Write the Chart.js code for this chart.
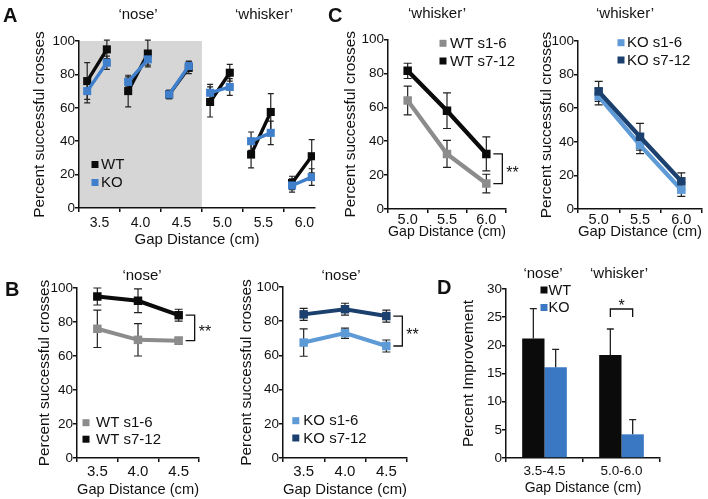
<!DOCTYPE html>
<html>
<head>
<meta charset="utf-8">
<script src="https://cdn.jsdelivr.net/npm/chart.js@4.4.0/dist/chart.umd.min.js"></script>
<style>
  body { margin: 0; background: #fff; }
  #fig { position: relative; width: 708px; height: 499px; overflow: hidden;
         font-family: "Liberation Sans", Arial, Helvetica, sans-serif; color: #111; }
  #fig canvas { position: absolute; left: 0; top: 0; }
  .letter { position: absolute; font-weight: bold; font-size: 20px; line-height: 20px; }
  .cond { position: absolute; font-size: 15px; line-height: 15px; white-space: nowrap;
          transform: translate(-50%, -50%); }
</style>
</head>
<body>
<div id="fig">
  <canvas id="chartA" width="708" height="499"></canvas>
  <canvas id="chartBl" width="708" height="499"></canvas>
  <canvas id="chartBr" width="708" height="499"></canvas>
  <canvas id="chartCl" width="708" height="499"></canvas>
  <canvas id="chartCr" width="708" height="499"></canvas>
  <canvas id="chartD" width="708" height="499"></canvas>

  <div class="letter" style="left:3px;top:5px">A</div>
  <div class="letter" style="left:5px;top:279px">B</div>
  <div class="letter" style="left:328px;top:5px">C</div>
  <div class="letter" style="left:437px;top:277px">D</div>

  <div class="cond" style="left:138px;top:13px">‘nose’</div>
  <div class="cond" style="left:264px;top:13px">‘whisker’</div>
  <div class="cond" style="left:437px;top:12px">‘whisker’</div>
  <div class="cond" style="left:625px;top:12px">‘whisker’</div>
  <div class="cond" style="left:142px;top:274px">‘nose’</div>
  <div class="cond" style="left:341px;top:274px">‘nose’</div>
  <div class="cond" style="left:543px;top:272px">‘nose’</div>
  <div class="cond" style="left:619px;top:272px">‘whisker’</div>
</div>
<script>
// ---- data ----
// A: every gap, first half (s1-6) and second half (s7-12) of sessions
const gapsA = [3.5, 4.0, 4.5, 5.0, 5.5, 6.0];
const wtEarlyA = [76, 70, 68, 63.5, 32, 15];
const wtEarlyErrA = [11, 9.5, 2.5, 9, 8, 4];
const wtLateA = [95, 92.5, 84, 81, 57.5, 31];
const wtLateErrA = [5.5, 8, 3.5, 5, 11, 10];
const koEarlyA = [70, 75.5, 68, 69, 40, 13.5];
const koEarlyErrA = [7, 3, 2.5, 5, 5.5, 4];
const koLateA = [87, 89, 85, 72.5, 45, 18.5];
const koLateErrA = [4, 3.5, 3, 5, 7, 5];

// B: 'nose' gaps
const gapsB = ['3.5', '4.0', '4.5'];
const wtEarlyB = [76, 69.5, 69];
const wtEarlyErrB = [11, 9.5, 2];
const wtLateB = [95, 92.5, 84];
const wtLateErrB = [5, 7, 3.5];
const koEarlyB = [67.5, 73, 65.5];
const koEarlyErrB = [8, 3, 3.5];
const koLateB = [84, 87, 83];
const koLateErrB = [3.5, 3.5, 3.5];

// C: 'whisker' gaps
const gapsC = ['5.0', '5.5', '6.0'];
const wtEarlyC = [64, 32.5, 15];
const wtEarlyErrC = [8.5, 8, 5.5];
const wtLateC = [81.5, 58, 32.5];
const wtLateErrC = [4.5, 10.5, 10];
const koEarlyC = [67, 38, 11.5];
const koEarlyErrC = [5, 5, 4];
const koLateC = [70, 43, 16.5];
const koLateErrC = [6, 8, 5];

// D: improvement by gap range
const rangesD = ['3.5-4.5', '5.0-6.0'];
const wtImpD = [21.2, 18.3];
const wtImpErrD = [5.3, 4.6];
const koImpD = [16.1, 4.2];
const koImpErrD = [3.2, 2.6];

// ---- look ----
const FONT = '"Liberation Sans", Arial, Helvetica, sans-serif';
const BLACK = '#0b0b0b';
const GREY = '#8c8c8c';
const BLUE = '#3f7fcb';
const LIGHT_BLUE = '#5d9ad6';
const NAVY = '#1c406e';
const SHADE = '#d6d6d6';
const SESSION_SHIFT = [-0.15, 0.09];

Chart.defaults.font.family = FONT;
Chart.defaults.font.size = 13.5;
Chart.defaults.color = '#111';
Chart.defaults.animation = false;

// chart boxes in page pixels: y title edge, plot edges, x title edge, tick/title fonts
const LAY = {
  A:  {Lt: 30.8,  L: 79,  R: 315, T: 41,   B: 208, Bt: 249,   xf: 14,   tp: 2.3, tf: 15},
  Bl: {Lt: 35.3,  L: 77,  R: 199, T: 288,  B: 458, Bt: 499,   xf: 15,   tp: 0.7, tf: 15},
  Br: {Lt: 237.8, L: 283, R: 407, T: 287,  B: 458, Bt: 499,   xf: 15,   tp: 0.7, tf: 15},
  Cl: {Lt: 341.3, L: 388, R: 506, T: 39.5, B: 209, Bt: 241,   xf: 14.5, tp: -1.5, tf: 15},
  Cr: {Lt: 537.5, L: 578, R: 703, T: 41,   B: 209, Bt: 241,   xf: 14.5, tp: -1.5, tf: 15},
  D:  {Lt: 459.8, L: 506, R: 660, T: 289,  B: 458, Bt: 496.7, xf: 13.5, tp: 1.6, tf: 14}
};

function drawErrorBars(chart, o) {
  const ctx = chart.ctx;
  const ys = chart.scales.y;
  ctx.save();
  ctx.lineWidth = o.width || 1.2;
  chart.data.datasets.forEach((ds, i) => {
    if (!ds.errors) return;
    const meta = chart.getDatasetMeta(i);
    ctx.strokeStyle = ds.errorColor || '#222';
    meta.data.forEach((el, j) => {
      const p = meta.controller.getParsed(j);
      const e = ds.errors[j];
      if (!p || p.y == null || e == null) return;
      const x = el.x;
      const hi = ys.getPixelForValue(p.y + e);
      const lo = ys.getPixelForValue(o.upOnly ? p.y : p.y - e);
      const c = o.cap;
      ctx.beginPath();
      ctx.moveTo(x, hi); ctx.lineTo(x, lo);
      ctx.moveTo(x - c, hi); ctx.lineTo(x + c, hi);
      if (!o.upOnly) { ctx.moveTo(x - c, lo); ctx.lineTo(x + c, lo); }
      ctx.stroke();
    });
  });
  ctx.restore();
}

const errorBars = {
  id: 'errorBars',
  beforeDatasetsDraw(chart, args, o) { if (!o.above) drawErrorBars(chart, o); },
  afterDatasetsDraw(chart, args, o) { if (o.above) drawErrorBars(chart, o); }
};

const shade = {
  id: 'shade',
  beforeDraw(chart, args, o) {
    const {ctx, scales: {x, y}} = chart;
    const l = x.getPixelForValue(o.from), r = x.getPixelForValue(o.to);
    const t = y.getPixelForValue(y.max), b = y.getPixelForValue(y.min);
    ctx.save();
    ctx.fillStyle = o.color;
    ctx.fillRect(l, t, r - l, b - t);
    ctx.restore();
  }
};

const boxLegend = {
  id: 'boxLegend',
  afterDraw(chart, args, o) {
    const ctx = chart.ctx;
    ctx.save();
    ctx.font = (o.size || 15) + 'px ' + FONT;
    ctx.textBaseline = 'middle';
    ctx.textAlign = 'left';
    chart.data.datasets.forEach((ds, i) => {
      const cy = o.y + i * o.rowH;
      ctx.fillStyle = ds.borderColor || ds.backgroundColor;
      ctx.fillRect(o.x - 3.5, cy - 3.5, 7, 7);
      ctx.fillStyle = '#111';
      ctx.fillText(ds.label, o.x + o.dx, cy + 0.5);
    });
    ctx.restore();
  }
};

const sideBracket = {
  id: 'sideBracket',
  afterDatasetsDraw(chart, args, o) {
    if (!o.text) return;
    const ctx = chart.ctx;
    const a = chart.getDatasetMeta(o.upper).data[o.index];
    const b = chart.getDatasetMeta(o.lower).data[o.index];
    const x0 = a.x + 7, x1 = a.x + 16;
    ctx.save();
    ctx.strokeStyle = '#111';
    ctx.lineWidth = 1.3;
    ctx.beginPath();
    ctx.moveTo(x0, a.y); ctx.lineTo(x1, a.y); ctx.lineTo(x1, b.y); ctx.lineTo(x0, b.y);
    ctx.stroke();
    ctx.fillStyle = '#111';
    ctx.font = '16px ' + FONT;
    ctx.textAlign = 'left';
    ctx.fillText(o.text, x1 + 4, (a.y + b.y) / 2 + 9);
    ctx.restore();
  }
};

const topBracket = {
  id: 'topBracket',
  afterDatasetsDraw(chart, args, o) {
    const ctx = chart.ctx;
    const ys = chart.scales.y;
    const dss = chart.data.datasets;
    const bars = dss.map((ds, i) => chart.getDatasetMeta(i).data[o.index]);
    const peak = Math.max(...dss.map(ds => ds.data[o.index] + ds.errors[o.index]));
    const foot = ys.getPixelForValue(peak) - 12, head = foot - 8;
    ctx.save();
    ctx.strokeStyle = '#111';
    ctx.lineWidth = 1.3;
    ctx.beginPath();
    ctx.moveTo(bars[0].x, foot); ctx.lineTo(bars[0].x, head);
    ctx.lineTo(bars[1].x, head); ctx.lineTo(bars[1].x, foot);
    ctx.stroke();
    ctx.fillStyle = '#111';
    ctx.font = '16px ' + FONT;
    ctx.textAlign = 'center';
    ctx.fillText(o.text, (bars[0].x + bars[1].x) / 2, head + 2.5);
    ctx.restore();
  }
};

function padFor(lay) {
  return {left: lay.Lt, right: 708 - lay.R, top: lay.T, bottom: 499 - lay.Bt};
}

function yAxis(lay, max, step, title) {
  return {
    min: 0, max: max,
    ticks: {stepSize: step, padding: 0, color: '#111', font: {size: 13.5}},
    grid: {drawOnChartArea: false, drawTicks: true, tickLength: 4, color: '#111', lineWidth: 1.5},
    border: {color: '#111', width: 1.5},
    title: {display: true, text: title, color: '#111', font: {size: 15.4}, padding: 0},
    afterFit(axis) { axis.width = lay.L - lay.Lt; }
  };
}

function xAxis(lay) {
  return {
    type: 'category',
    offset: true,
    ticks: {padding: lay.tp, color: '#111', font: {size: lay.xf}, maxRotation: 0, autoSkip: false},
    grid: {offset: true, drawOnChartArea: false, drawTicks: true, tickLength: 4, color: '#111', lineWidth: 1.5},
    border: {color: '#111', width: 1.5},
    title: {display: true, text: 'Gap Distance (cm)', color: '#111', font: {size: lay.tf}, padding: 0},
    afterFit(axis) { axis.height = lay.Bt - lay.B; }
  };
}

function lineSet(label, data, errors, color, order, r, w) {
  return {
    label: label, data: data, errors: errors, order: order,
    borderColor: color, backgroundColor: color,
    pointBackgroundColor: color, pointBorderWidth: 0,
    pointStyle: 'rect', pointRadius: r, borderWidth: w,
    spanGaps: false, tension: 0
  };
}

const basePlugins = {legend: {display: false}, tooltip: {enabled: false}};

// ---- A ----
function pairPoints(early, late) {
  const pts = [];
  gapsA.forEach((g, i) => {
    pts.push({x: g + SESSION_SHIFT[0], y: early[i]});
    pts.push({x: g + SESSION_SHIFT[1], y: late[i]});
    pts.push({x: g + 0.25, y: null});
  });
  return pts;
}
function pairErrors(early, late) {
  return gapsA.flatMap((g, i) => [early[i], late[i], null]);
}

new Chart(document.getElementById('chartA'), {
  type: 'line',
  data: {
    datasets: [
      lineSet('WT', pairPoints(wtEarlyA, wtLateA), pairErrors(wtEarlyErrA, wtLateErrA), BLACK, 1, 5.7, 3.4),
      lineSet('KO', pairPoints(koEarlyA, koLateA), pairErrors(koEarlyErrA, koLateErrA), BLUE, 0, 5.7, 3.4)
    ]
  },
  options: {
    responsive: false, events: [],
    layout: {padding: padFor(LAY.A)},
    scales: {
      x: Object.assign(xAxis(LAY.A), {
        type: 'linear', offset: false,
        min: gapsA[0] - 0.25, max: 6.13,
        afterBuildTicks(axis) { axis.ticks = gapsA.map(g => ({value: g - 0.25})); },
        ticks: {padding: LAY.A.tp, color: '#111', font: {size: LAY.A.xf}, maxRotation: 0, autoSkip: false,
                labelOffset: 20.5, callback: v => (v + 0.25).toFixed(1)},
        grid: {drawOnChartArea: false, drawTicks: true, tickLength: 4, color: '#111', lineWidth: 1.5}
      }),
      y: yAxis(LAY.A, 100, 20, 'Percent successful crosses')
    },
    plugins: Object.assign({}, basePlugins, {
      shade: {from: 3.25, to: 4.75, color: SHADE},
      errorBars: {cap: 3, width: 1.2},
      boxLegend: {x: 95, y: 164.5, rowH: 18, dx: 6}
    })
  },
  plugins: [shade, errorBars, boxLegend]
});

// ---- B and C session panels ----
function sessionChart(id, lay, labels, sets, legend, bracket) {
  new Chart(document.getElementById(id), {
    type: 'line',
    data: {labels: labels, datasets: sets},
    options: {
      responsive: false, events: [],
      layout: {padding: padFor(lay)},
      scales: {x: xAxis(lay), y: yAxis(lay, 100, 20, 'Percent successful crosses')},
      plugins: Object.assign({}, basePlugins, {
        errorBars: {cap: 4, width: 1.2},
        boxLegend: legend,
        sideBracket: bracket
      })
    },
    plugins: [errorBars, boxLegend, sideBracket]
  });
}

sessionChart('chartBl', LAY.Bl, gapsB, [
  lineSet('WT s1-6', wtEarlyB, wtEarlyErrB, GREY, 1, 6, 4),
  lineSet('WT s7-12', wtLateB, wtLateErrB, BLACK, 0, 6, 4)
], {x: 86, y: 422.7, rowH: 16.5, dx: 10}, {upper: 1, lower: 0, index: 2, text: '**'});

sessionChart('chartBr', LAY.Br, gapsB, [
  lineSet('KO s1-6', koEarlyB, koEarlyErrB, LIGHT_BLUE, 1, 6, 4),
  lineSet('KO s7-12', koLateB, koLateErrB, NAVY, 0, 6, 4)
], {x: 295.8, y: 420.7, rowH: 17.3, dx: 7.5}, {upper: 1, lower: 0, index: 2, text: '**'});

sessionChart('chartCl', LAY.Cl, gapsC, [
  lineSet('WT s1-6', wtEarlyC, wtEarlyErrC, GREY, 1, 6, 4.3),
  lineSet('WT s7-12', wtLateC, wtLateErrC, BLACK, 0, 6, 4.3)
], {x: 443, y: 43.3, rowH: 17.7, dx: 7}, {upper: 1, lower: 0, index: 2, text: '**'});

sessionChart('chartCr', LAY.Cr, gapsC, [
  lineSet('KO s1-6', koEarlyC, koEarlyErrC, LIGHT_BLUE, 1, 6, 4.3),
  lineSet('KO s7-12', koLateC, koLateErrC, NAVY, 0, 6, 4.3)
], {x: 621, y: 42.7, rowH: 17.3, dx: 6}, {});

// ---- D ----
new Chart(document.getElementById('chartD'), {
  type: 'bar',
  data: {
    labels: rangesD,
    datasets: [
      {label: 'WT', data: wtImpD, errors: wtImpErrD, backgroundColor: BLACK,
       categoryPercentage: 0.58, barPercentage: 1},
      {label: 'KO', data: koImpD, errors: koImpErrD, backgroundColor: '#3b78c4',
       categoryPercentage: 0.58, barPercentage: 1}
    ]
  },
  options: {
    responsive: false, events: [],
    layout: {padding: padFor(LAY.D)},
    scales: {x: xAxis(LAY.D), y: yAxis(LAY.D, 30, 5, 'Percent Improvement')},
    plugins: Object.assign({}, basePlugins, {
      errorBars: {cap: 3.5, width: 1.3, upOnly: true, above: true},
      boxLegend: {x: 544, y: 290, rowH: 17.5, dx: 4.5, size: 14.5},
      topBracket: {index: 1, text: '*'}
    })
  },
  plugins: [errorBars, boxLegend, topBracket]
});
</script>
</body>
</html>
